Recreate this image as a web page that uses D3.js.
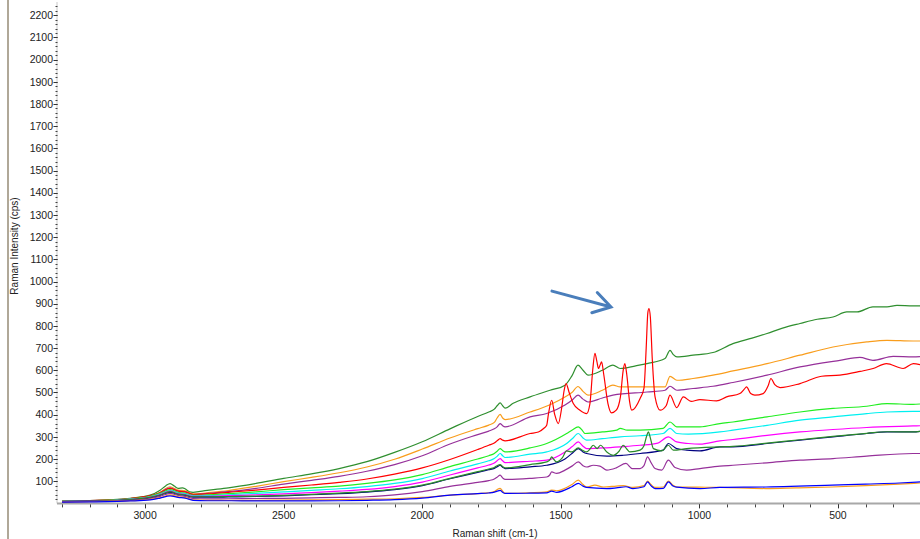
<!DOCTYPE html>
<html><head><meta charset="utf-8">
<script src="https://cdn.jsdelivr.net/npm/d3@7"></script>
<style>body{margin:0;background:#fff}svg{display:block}</style>
</head><body>
<svg id="c" width="920" height="539"></svg>
<script>
// ---------- data (wavenumber cm-1, intensity cps) ----------
const xTickLabels = [3000, 2500, 2000, 1500, 1000, 500];
const yTickLabels = [100,200,300,400,500,600,700,800,900,1000,1100,1200,1300,1400,1500,1600,1700,1800,1900,2000,2100,2200];
const xLabel = "Raman shift (cm-1)";
const yLabel = "Raman Intensity (cps)";

const greenTop = [[3300,10],[3200,13],[3100,18],[3054,23],[2982,37],[2946,59],[2925,80],[2910,89],[2895,78],[2881,68],[2865,70],[2856,66],[2840,52],[2827,50],[2776,59],[2700,70],[2600,90],[2500,113],[2400,133],[2300,157],[2200,188],[2100,230],[2000,278],[1900,336],[1800,392],[1760,412],[1740,425],[1730,440],[1719,453],[1710,440],[1701,429],[1672,451],[1611,480],[1539,510],[1485,533],[1460,575],[1438,623],[1420,600],[1402,578],[1350,600],[1312,623],[1286,608],[1230,620],[1189,630],[1124,653],[1106,690],[1095,672],[1081,660],[1023,668],[951,680],[879,720],[810,745],[756,766],[700,790],[637,811],[575,830],[518,840],[468,863],[431,863],[374,886],[323,886],[287,893],[229,890],[204,890]];
const orangeTop = [[3300,10],[3200,12],[3100,16],[3054,20],[2982,33],[2946,50],[2910,75],[2881,60],[2856,57],[2827,42],[2776,48],[2700,58],[2600,77],[2500,98],[2400,117],[2300,138],[2200,164],[2100,199],[2000,245],[1900,295],[1800,337],[1760,353],[1740,365],[1730,385],[1719,401],[1710,385],[1701,378],[1611,412],[1539,445],[1485,480],[1460,500],[1438,527],[1420,505],[1402,488],[1350,510],[1312,533],[1286,525],[1189,525],[1124,525],[1106,573],[1081,555],[1023,563],[951,578],[879,597],[756,630],[637,668],[518,705],[396,728],[323,735],[229,732],[204,732]];
const purpleTop = [[3300,10],[3200,12],[3100,16],[3054,20],[2982,32],[2946,48],[2910,70],[2881,56],[2856,53],[2827,40],[2776,45],[2700,53],[2600,68],[2500,87],[2400,104],[2300,122],[2200,145],[2100,175],[2000,215],[1900,268],[1800,310],[1760,326],[1740,336],[1730,345],[1719,360],[1710,350],[1701,345],[1611,390],[1551,405],[1485,443],[1460,465],[1438,488],[1420,470],[1402,457],[1350,475],[1312,488],[1189,502],[1124,510],[1106,528],[1081,510],[1023,518],[951,528],[879,545],[756,578],[637,615],[493,645],[421,658],[374,645],[301,663],[229,660],[204,662]];
const redMain = [[3300,10],[3200,13],[3100,17],[3054,22],[2982,35],[2946,48],[2910,68],[2881,55],[2856,52],[2827,41],[2776,43],[2700,50],[2600,60],[2500,72],[2400,83],[2300,95],[2200,110],[2100,132],[2000,160],[1900,198],[1800,243],[1760,262],[1740,272],[1730,282],[1719,292],[1710,285],[1701,282],[1611,315],[1581,322],[1560,340],[1551,352],[1545,400],[1533,465],[1522,400],[1509,360],[1497,430],[1488,510],[1481,540],[1470,500],[1455,450],[1431,420],[1407,405],[1395,450],[1385,600],[1377,676],[1370,640],[1364,608],[1358,625],[1353,638],[1345,580],[1330,450],[1317,408],[1300,420],[1285,480],[1275,600],[1269,630],[1262,580],[1252,460],[1244,420],[1214,473],[1200,520],[1192,700],[1186,860],[1182,878],[1177,840],[1170,650],[1160,480],[1142,420],[1120,440],[1106,488],[1082,432],[1058,480],[1030,460],[998,468],[938,462],[902,480],[854,495],[838,515],[830,525],[815,495],[800,488],[770,495],[752,530],[742,563],[728,535],[709,522],[637,540],[559,573],[493,578],[420,595],[373,608],[325,630],[265,608],[228,630],[204,625]];
const limeMid = [[3300,9],[3200,12],[3100,16],[3054,20],[2982,32],[2946,45],[2910,62],[2881,50],[2856,46],[2827,36],[2776,38],[2700,44],[2600,52],[2500,62],[2400,70],[2300,78],[2200,90],[2100,106],[2000,130],[1900,166],[1800,200],[1760,215],[1740,225],[1730,235],[1719,247],[1710,238],[1701,232],[1611,250],[1551,270],[1479,315],[1460,330],[1437,345],[1420,325],[1413,315],[1350,322],[1298,330],[1286,338],[1260,330],[1214,330],[1131,338],[1106,367],[1082,345],[998,345],[926,360],[879,367],[756,390],[637,412],[518,428],[396,438],[323,450],[229,446],[204,448]];
const cyanMid = [[3300,9],[3200,11],[3100,15],[3054,19],[2982,30],[2946,42],[2910,58],[2881,47],[2856,43],[2827,34],[2776,35],[2700,39],[2600,45],[2500,52],[2400,59],[2300,66],[2200,76],[2100,90],[2000,112],[1900,146],[1800,178],[1760,192],[1740,202],[1730,212],[1719,225],[1710,215],[1701,207],[1611,222],[1551,232],[1479,270],[1460,290],[1437,315],[1420,295],[1407,285],[1350,292],[1286,300],[1214,305],[1131,315],[1106,338],[1082,315],[1040,312],[926,322],[879,330],[756,352],[637,375],[518,390],[396,405],[323,412],[229,415],[204,415]];
const magentaMid = [[3300,8],[3200,11],[3100,14],[3054,18],[2982,28],[2946,40],[2910,55],[2881,44],[2856,40],[2827,32],[2776,32],[2700,35],[2600,38],[2500,43],[2400,49],[2300,55],[2200,63],[2100,76],[2000,96],[1900,128],[1800,160],[1760,173],[1740,182],[1730,192],[1719,202],[1710,192],[1701,184],[1611,190],[1551,195],[1485,232],[1460,255],[1437,277],[1420,258],[1407,247],[1350,250],[1286,255],[1214,262],[1150,272],[1112,300],[1082,277],[1040,270],[998,267],[926,282],[879,288],[756,307],[637,322],[518,333],[396,342],[229,349],[204,350]];
const navyMid = [[3300,8],[3200,10],[3100,13],[3054,16],[2982,25],[2946,36],[2910,50],[2881,40],[2856,36],[2827,28],[2776,28],[2700,29],[2600,31],[2500,34],[2400,39],[2300,44],[2200,51],[2100,62],[2000,80],[1900,111],[1800,140],[1760,152],[1740,158],[1730,165],[1719,172],[1710,163],[1701,157],[1611,165],[1551,172],[1485,200],[1460,225],[1437,247],[1420,232],[1407,225],[1334,213],[1275,217],[1214,225],[1131,240],[1112,270],[1082,247],[1046,240],[998,237],[926,255],[879,255],[756,270],[637,285],[518,300],[396,315],[323,322],[229,322],[204,325]];
const greenMid = [[3300,8],[3200,10],[3100,14],[3054,17],[2982,27],[2946,38],[2910,53],[2881,42],[2856,38],[2827,30],[2776,30],[2700,31],[2600,33],[2500,36],[2400,41],[2300,46],[2200,53],[2100,64],[2000,82],[1900,113],[1800,143],[1760,155],[1740,162],[1730,170],[1719,175],[1710,166],[1701,160],[1611,175],[1551,187],[1540,195],[1533,210],[1525,198],[1515,187],[1495,205],[1479,237],[1461,232],[1437,250],[1420,238],[1407,232],[1395,245],[1383,262],[1369,247],[1357,262],[1334,232],[1310,217],[1290,235],[1275,262],[1262,245],[1251,232],[1214,240],[1200,260],[1190,305],[1184,322],[1178,300],[1166,247],[1136,237],[1112,262],[1094,240],[1046,247],[926,255],[879,257],[756,272],[637,287],[518,302],[396,316],[323,323],[229,322],[204,325]];
const purpleLow = [[3300,7],[3200,9],[3100,11],[3054,14],[2982,22],[2946,32],[2910,45],[2881,36],[2856,32],[2827,22],[2776,20],[2700,21],[2600,22],[2500,23],[2400,25],[2300,27],[2200,30],[2100,38],[2000,53],[1900,77],[1800,95],[1760,103],[1740,110],[1730,118],[1719,127],[1710,115],[1701,108],[1611,113],[1551,119],[1540,128],[1533,142],[1515,135],[1485,150],[1460,168],[1437,187],[1420,170],[1407,164],[1383,172],[1359,168],[1334,150],[1300,160],[1265,180],[1242,157],[1214,157],[1200,170],[1187,210],[1175,185],[1160,157],[1136,150],[1112,195],[1088,162],[1046,150],[998,157],[926,168],[879,172],[756,183],[637,195],[518,202],[396,213],[229,225],[204,225]];
const orangeLow = [[3300,6],[3200,8],[3100,10],[3054,12],[2982,18],[2946,26],[2910,38],[2881,30],[2856,27],[2827,16],[2776,14],[2700,14],[2600,14],[2500,15],[2400,16],[2300,17],[2200,19],[2100,21],[2000,27],[1900,37],[1800,44],[1760,48],[1740,53],[1730,62],[1719,68],[1710,55],[1701,45],[1611,48],[1551,52],[1533,60],[1515,57],[1460,85],[1437,105],[1420,85],[1407,74],[1377,82],[1346,74],[1300,78],[1275,80],[1240,72],[1200,80],[1187,100],[1175,85],[1160,72],[1130,74],[1112,101],[1095,82],[1082,74],[1000,73],[926,72],[760,67],[650,70],[521,74],[400,80],[279,87],[204,92]];
const blueLow = [[3300,6],[3200,7],[3100,9],[3054,11],[2982,16],[2946,24],[2910,34],[2881,27],[2856,24],[2827,14],[2776,12],[2700,12],[2600,11],[2500,11],[2400,11],[2300,12],[2200,14],[2100,17],[2000,24],[1900,37],[1800,44],[1760,47],[1740,51],[1730,55],[1719,59],[1710,50],[1701,45],[1611,46],[1551,47],[1533,55],[1515,50],[1460,75],[1437,90],[1420,78],[1407,72],[1334,67],[1300,70],[1265,75],[1240,67],[1200,75],[1187,97],[1175,80],[1160,67],[1130,68],[1112,97],[1095,78],[1082,73],[998,67],[926,72],[760,74],[521,82],[400,87],[279,92],[204,97]];

// annotation arrow (data units): from, to
const arrowFrom = [1532, 957];
const arrowTo = [1319, 885];

const seriesData = [greenTop, orangeTop, purpleTop, redMain, limeMid, cyanMid, magentaMid, navyMid, greenMid, purpleLow, orangeLow, blueLow];
const seriesColors = ["#2f8f2f", "#f99d1c", "#96309a", "#ff0000", "#22ee22", "#00f0f0", "#ff00ff", "#000080", "#2a8a2a", "#96309a", "#f99d1c", "#0000ff"];

// ---------- drawing ----------
const svg = d3.select("#c");
const W = 920, H = 539;
const pLeft = 57, pRight = 920, pTop = 2, pBottom = 503.4;
const x = d3.scaleLinear().domain([3318, 204]).range([pLeft, pRight]);
const y = d3.scaleLinear().domain([0, 2260]).range([pBottom, pTop]);
const font = "'Liberation Sans', Arial, sans-serif";

// outer left border
svg.append("line").attr("x1", 8).attr("x2", 8).attr("y1", 0).attr("y2", H)
  .attr("stroke", "#b0a898").attr("stroke-width", 2);

// y axis
const gy = svg.append("g");
gy.append("line").attr("x1", pLeft).attr("x2", pLeft).attr("y1", pTop).attr("y2", pBottom)
  .attr("stroke", "#c8c8c8").attr("stroke-width", 1);
const yMinor = d3.range(20, 2260, 20);
gy.selectAll("line.ym").data(yMinor).join("line").attr("class", "ym")
  .attr("x1", pLeft - 1.5).attr("x2", pLeft + 0.5)
  .attr("y1", d => Math.round(y(d)) + 0.5).attr("y2", d => Math.round(y(d)) + 0.5)
  .attr("stroke", "#444").attr("stroke-width", 1);
gy.selectAll("line.yM").data(yTickLabels).join("line").attr("class", "yM")
  .attr("x1", pLeft - 3.5).attr("x2", pLeft + 0.5)
  .attr("y1", d => Math.round(y(d)) + 0.5).attr("y2", d => Math.round(y(d)) + 0.5)
  .attr("stroke", "#333").attr("stroke-width", 1);
gy.selectAll("text").data(yTickLabels).join("text")
  .attr("x", pLeft - 4).attr("y", d => y(d)).attr("dy", "0.35em")
  .attr("text-anchor", "end").attr("font-family", font).attr("font-size", 10.5)
  .attr("fill", "#222").text(d => d);

// x axis
const gx = svg.append("g");
gx.append("line").attr("x1", pLeft).attr("x2", pRight).attr("y1", pBottom).attr("y2", pBottom)
  .attr("stroke", "#a8a8a8").attr("stroke-width", 2);
const xMinor = d3.range(3300, 203, -100);
gx.selectAll("line.xm").data(xMinor).join("line").attr("class", "xm")
  .attr("x1", d => Math.round(x(d)) + 0.5).attr("x2", d => Math.round(x(d)) + 0.5)
  .attr("y1", pBottom + 1).attr("y2", pBottom + 4)
  .attr("stroke", "#444").attr("stroke-width", 1);
gx.selectAll("line.xM").data(xTickLabels).join("line").attr("class", "xM")
  .attr("x1", d => Math.round(x(d)) + 0.5).attr("x2", d => Math.round(x(d)) + 0.5)
  .attr("y1", pBottom + 1).attr("y2", pBottom + 5)
  .attr("stroke", "#333").attr("stroke-width", 1);
gx.selectAll("text").data(xTickLabels).join("text")
  .attr("x", d => x(d)).attr("y", 519)
  .attr("text-anchor", "middle").attr("font-family", font).attr("font-size", 10.5)
  .attr("fill", "#222").text(d => d);

// axis titles
svg.append("text").attr("x", 495).attr("y", 537).attr("text-anchor", "middle")
  .attr("font-family", font).attr("font-size", 10).attr("fill", "#222").text(xLabel);
svg.append("text").attr("transform", "translate(18,246) rotate(-90)").attr("text-anchor", "middle")
  .attr("font-family", font).attr("font-size", 10).attr("fill", "#222").text(yLabel);

// series
const line = d3.line().x(d => x(d[0])).y(d => y(d[1])).curve(d3.curveMonotoneX);
const gs = svg.append("g");
seriesData.forEach((data, i) => {
  const sorted = data.slice().sort((a, b) => b[0] - a[0]);
  gs.append("path").datum(sorted).attr("d", line)
    .attr("fill", "none").attr("stroke", seriesColors[i])
    .attr("stroke-width", 1.2).attr("stroke-linejoin", "round");
});

// arrow annotation
const ax1 = x(arrowFrom[0]), ay1 = y(arrowFrom[1]);
const ax2 = x(arrowTo[0]), ay2 = y(arrowTo[1]);
const ang = Math.atan2(ay2 - ay1, ax2 - ax1);
const hl = 20, ha = 0.55;
const arrowPath = d3.path();
arrowPath.moveTo(ax1, ay1); arrowPath.lineTo(ax2, ay2);
arrowPath.moveTo(ax2 - hl * Math.cos(ang - ha), ay2 - hl * Math.sin(ang - ha));
arrowPath.lineTo(ax2, ay2);
arrowPath.lineTo(ax2 - hl * Math.cos(ang + ha), ay2 - hl * Math.sin(ang + ha));
svg.append("path").attr("d", arrowPath.toString()).attr("fill", "none")
  .attr("stroke", "#4a7ebb").attr("stroke-width", 3).attr("stroke-linecap", "round")
  .attr("stroke-linejoin", "miter");
</script>
</body></html>
